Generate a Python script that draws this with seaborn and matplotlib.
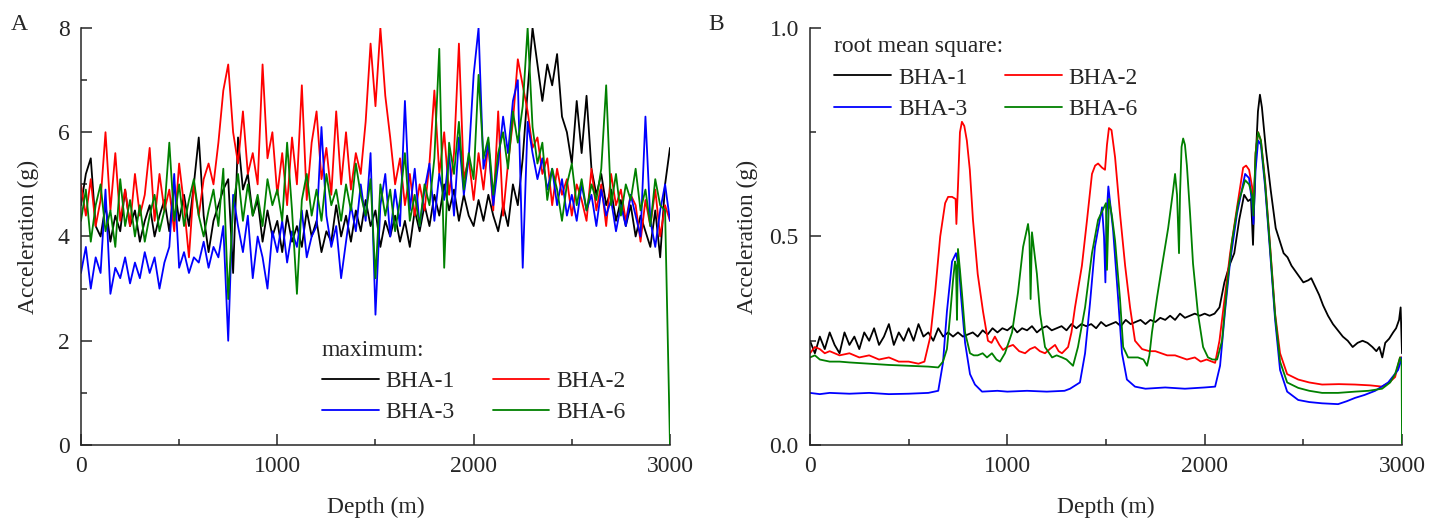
import numpy as np
import pandas as pd
import matplotlib as mpl
import matplotlib.pyplot as plt
import seaborn as sns

names = ["BHA-1", "BHA-2", "BHA-3", "BHA-6"]
colors = {"BHA-1": "#000000", "BHA-2": "#ff0000", "BHA-3": "#0000ff", "BHA-6": "#008000"}

# ---- panel A : maximum acceleration, one value every 25 m (0 .. 3000) ----
depth_a = list(range(0, 3001, 25))

max_bha1 = [4.6, 5.2, 5.5, 4.2, 4.0, 4.6, 3.9, 4.4, 4.1, 4.9,
            4.2, 4.5, 3.9, 4.3, 4.6, 4.0, 4.4, 4.7, 4.1, 5.0,
            4.3, 4.8, 4.2, 5.0, 5.9, 4.4, 3.7, 4.3, 4.6, 4.9,
            5.1, 3.3, 5.9, 4.9, 5.2, 4.4, 4.7, 3.9, 4.5, 4.0,
            4.3, 3.7, 4.4, 3.9, 4.2, 3.8, 4.5, 4.0, 4.3, 3.7,
            4.1, 3.9, 4.6, 4.0, 4.4, 3.9, 4.5, 4.1, 4.7, 4.2,
            4.5, 3.8, 4.3, 4.0, 4.4, 3.9, 4.3, 3.8, 4.5, 4.1,
            4.6, 4.2, 4.8, 4.4, 5.0, 4.5, 4.9, 4.3, 4.8, 4.4,
            4.2, 4.7, 4.3, 4.8, 4.4, 4.1, 4.6, 4.2, 5.0, 4.6,
            5.5, 6.8, 8.0, 7.3, 6.6, 7.3, 6.9, 7.5, 6.3, 6.0,
            5.4, 6.6, 5.6, 6.7, 5.3, 4.8, 5.2, 4.6, 4.9, 4.3,
            4.7, 4.2, 4.6, 4.0, 4.4, 4.1, 3.8, 4.5, 3.6, 5.0,
            5.7]
max_bha2 = [5.0, 4.4, 5.1, 4.2, 4.7, 6.0, 4.5, 5.6, 4.3, 4.9,
            4.2, 5.2, 4.4, 4.8, 5.7, 4.3, 5.2, 4.5, 4.9, 4.1,
            5.4, 4.6, 3.6, 5.0, 4.4, 5.1, 5.4, 5.0, 5.8, 6.8,
            7.3, 6.0, 5.4, 6.4, 5.2, 5.6, 5.0, 7.3, 5.5, 6.0,
            4.8, 5.6, 4.6, 5.9, 5.0, 6.9, 4.7, 5.8, 6.4, 5.1,
            5.7, 4.8, 6.4, 5.0, 6.0, 4.9, 5.6, 5.2, 6.2, 7.7,
            6.5, 8.0, 6.7, 5.9, 5.0, 5.5, 4.6, 5.2, 4.4, 5.0,
            4.5, 5.4, 6.8, 5.2, 6.0, 4.8, 5.6, 7.7, 5.1, 5.5,
            4.7, 5.6, 4.9, 5.8, 4.5, 6.4, 4.4, 5.4, 6.2, 7.4,
            6.9, 6.4, 5.7, 5.9, 5.2, 5.5, 4.6, 5.3, 4.8, 5.1,
            4.4, 5.0, 4.7, 4.3, 5.3, 4.5, 5.0, 4.2, 5.2, 4.6,
            4.9, 4.3, 4.8, 4.6, 3.9, 4.7, 4.2, 4.9, 4.0, 4.6,
            4.3]
max_bha3 = [3.3, 3.8, 3.0, 3.6, 3.3, 4.9, 2.9, 3.4, 3.2, 3.6,
            3.1, 3.5, 3.2, 3.7, 3.3, 3.6, 3.0, 3.5, 3.8, 5.2,
            3.4, 3.7, 3.3, 3.6, 3.5, 3.9, 3.4, 3.8, 3.6, 4.2,
            2.0, 4.8, 4.2, 3.7, 4.4, 3.2, 4.0, 3.6, 3.0, 4.1,
            3.7, 4.3, 3.5, 4.1, 3.8, 4.5, 3.6, 4.0, 4.2, 6.1,
            4.4, 3.8, 4.2, 3.2, 3.9, 4.6, 4.1, 5.0, 4.3, 5.6,
            2.5, 4.6, 5.2, 4.0, 4.9, 4.2, 6.6, 4.5, 5.3, 4.2,
            4.9, 5.4, 4.3, 5.2, 4.7, 5.6, 4.4, 5.9, 4.8, 5.5,
            7.1, 8.0, 5.3, 5.8, 4.6, 5.4, 6.3, 5.6, 6.6, 7.0,
            3.4, 6.2, 5.6, 5.1, 5.5, 4.9, 5.3, 4.6, 5.1, 4.4,
            4.8, 4.3, 5.0, 4.5, 4.8, 4.2, 4.9, 4.4, 4.7, 4.1,
            4.6, 4.2, 4.8, 4.4, 4.0, 6.3, 4.3, 3.8, 4.5, 5.0,
            4.3]
max_bha6 = [4.3, 4.9, 3.9, 4.6, 5.0, 4.1, 4.5, 3.8, 5.1, 4.2,
            4.7, 4.0, 4.6, 3.9, 4.4, 4.8, 4.1, 4.5, 5.8, 4.3,
            5.0, 4.2, 4.7, 5.1, 4.4, 4.0, 4.5, 4.9, 4.2, 5.3,
            2.8, 4.6, 5.2, 4.3, 5.0, 4.4, 4.8, 4.2, 5.1, 4.6,
            4.9, 4.3, 5.8, 4.5, 2.9, 4.7, 5.2, 4.4, 4.9, 4.3,
            5.2, 4.6, 4.9, 4.3, 5.0, 4.5, 5.4, 4.8, 4.4, 5.1,
            3.2, 5.0, 4.4, 4.9, 4.1, 4.7, 5.6, 4.3, 4.8, 4.2,
            5.0, 4.6, 5.5, 7.6, 3.4, 5.8, 5.2, 6.2, 4.9, 5.6,
            5.1, 7.1, 5.5, 5.9, 4.8, 5.6, 6.0, 5.3, 6.4, 5.8,
            6.5, 8.0, 6.1, 5.4, 5.8, 4.7, 5.3, 4.9, 4.3, 5.0,
            5.4, 4.6, 5.1, 4.5, 5.0, 4.7, 5.3, 6.9, 4.6, 5.2,
            4.4, 5.0, 4.7, 5.3, 4.5, 4.9, 4.2, 5.1, 4.6, 4.5,
            0.0]

# ---- panel B : root mean square ----
rms_bha1_depth = list(range(0, 2051, 25)) + [
    2075, 2100, 2125, 2150, 2175, 2200, 2220, 2235, 2245, 2255, 2270, 2280, 2290,
    2310, 2335, 2360, 2380, 2400, 2420, 2440, 2470, 2500, 2525, 2540, 2560, 2580,
    2600, 2625, 2650, 2675, 2700, 2725, 2750, 2775, 2800, 2825, 2850, 2870, 2885,
    2900, 2915, 2935, 2955, 2970, 2985, 2993, 3000]
rms_bha1 = [0.25, 0.22, 0.26, 0.23, 0.27, 0.24, 0.22, 0.27, 0.24, 0.26,
            0.23, 0.27, 0.25, 0.28, 0.24, 0.26, 0.29, 0.24, 0.27, 0.25,
            0.28, 0.25, 0.29, 0.26, 0.27, 0.25, 0.28, 0.26, 0.27, 0.26,
            0.27, 0.26, 0.265, 0.27, 0.26, 0.275, 0.265, 0.28, 0.27, 0.28,
            0.275, 0.285, 0.27, 0.28, 0.275, 0.285, 0.27, 0.28, 0.285, 0.275,
            0.28, 0.285, 0.275, 0.29, 0.28, 0.29, 0.285, 0.29, 0.28, 0.295,
            0.285, 0.29, 0.295, 0.285, 0.30, 0.29, 0.295, 0.30, 0.29, 0.30,
            0.295, 0.305, 0.30, 0.31, 0.30, 0.315, 0.305, 0.31, 0.315, 0.31,
            0.315, 0.31, 0.315,
            0.33, 0.39, 0.43, 0.46, 0.54, 0.60, 0.585, 0.59, 0.48, 0.65, 0.80, 0.84, 0.81,
            0.71, 0.61, 0.52, 0.49, 0.46, 0.45, 0.43, 0.41, 0.39, 0.395, 0.40, 0.38, 0.36,
            0.335, 0.31, 0.29, 0.275, 0.26, 0.25, 0.235, 0.245, 0.25, 0.245, 0.235, 0.225, 0.235,
            0.21, 0.245, 0.255, 0.27, 0.28, 0.30, 0.33, 0.22]

rms_bha2_depth = [0, 25, 50, 75, 100, 150, 200, 250, 300, 350, 400, 450, 500, 550, 580,
                  610, 635, 660, 685, 700, 720, 738, 742, 750, 760, 770, 782, 795, 810, 826,
                  850, 877, 902, 920, 937, 960, 978, 1000, 1029, 1060, 1090, 1115, 1140,
                  1165, 1191, 1215, 1242, 1260, 1277, 1308, 1325, 1343, 1378, 1404, 1429,
                  1445, 1460, 1480, 1495, 1505, 1515, 1528, 1546, 1571, 1597, 1622, 1647,
                  1683, 1720, 1750, 1780, 1810, 1850, 1880, 1910, 1950, 1980, 2010, 2053,
                  2075, 2093, 2129, 2164, 2195, 2210, 2225, 2240, 2248, 2258, 2271, 2285,
                  2306, 2332, 2357, 2382, 2418, 2474, 2530, 2595, 2680, 2762, 2840, 2899,
                  2935, 2965, 2990, 3000]
rms_bha2 = [0.22, 0.235, 0.23, 0.22, 0.225, 0.215, 0.22, 0.21, 0.215, 0.205, 0.21, 0.20, 0.20, 0.195, 0.20,
            0.26, 0.37, 0.50, 0.58, 0.595, 0.595, 0.59, 0.53, 0.62, 0.75, 0.775, 0.765, 0.73, 0.66, 0.54,
            0.41, 0.32, 0.25, 0.245, 0.26, 0.24, 0.228, 0.235, 0.24, 0.225, 0.22, 0.23, 0.235,
            0.225, 0.22, 0.23, 0.24, 0.225, 0.22, 0.235, 0.27, 0.33, 0.43, 0.54, 0.65,
            0.67, 0.675, 0.665, 0.66, 0.72, 0.76, 0.755, 0.69, 0.555, 0.43, 0.33, 0.25,
            0.23, 0.225, 0.225, 0.22, 0.215, 0.215, 0.21, 0.205, 0.21, 0.20, 0.205, 0.197,
            0.25, 0.32, 0.46, 0.57, 0.665, 0.67, 0.66, 0.62, 0.55, 0.70, 0.75, 0.73,
            0.635, 0.475, 0.315, 0.22, 0.17, 0.157, 0.15, 0.145, 0.146, 0.145, 0.143, 0.14,
            0.15, 0.163, 0.21, 0.21]

rms_bha3_depth = [0, 50, 100, 200, 300, 400, 500, 600, 650, 674, 694, 720, 740, 748, 755,
                  765, 786, 811, 836, 872, 950, 1000, 1100, 1200, 1290, 1318, 1368, 1394,
                  1419, 1444, 1480, 1490, 1497, 1503, 1512, 1536, 1561, 1581, 1606, 1647,
                  1700, 1800, 1900, 2000, 2053, 2078, 2103, 2129, 2164, 2205, 2225, 2240,
                  2247, 2258, 2271, 2285, 2306, 2332, 2357, 2382, 2418, 2474, 2530, 2595,
                  2676, 2720, 2762, 2810, 2864, 2930, 2980, 3000]
rms_bha3 = [0.125, 0.122, 0.125, 0.123, 0.125, 0.122, 0.123, 0.125, 0.13, 0.197, 0.32, 0.44, 0.46, 0.44, 0.43,
            0.36, 0.245, 0.17, 0.145, 0.128, 0.13, 0.128, 0.13, 0.128, 0.13, 0.135, 0.15, 0.22,
            0.34, 0.475, 0.57, 0.50, 0.39, 0.55, 0.62, 0.515, 0.355, 0.22, 0.157, 0.14,
            0.135, 0.138, 0.135, 0.138, 0.14, 0.19, 0.32, 0.44, 0.555, 0.65, 0.64, 0.58,
            0.53, 0.66, 0.73, 0.72, 0.62, 0.46, 0.30, 0.18, 0.128, 0.108, 0.103, 0.10,
            0.098, 0.105, 0.113, 0.12, 0.13, 0.15, 0.18, 0.21]

rms_bha6_depth = [0, 25, 50, 100, 150, 200, 300, 400, 500, 600, 650, 674, 694, 710, 725,
                  735, 740, 745, 750, 760, 770, 786, 811, 830, 850, 875, 897, 922, 945,
                  963, 988, 1024, 1054, 1080, 1105, 1112, 1118, 1125, 1150, 1166, 1191,
                  1227, 1250, 1277, 1300, 1333, 1358, 1394, 1429, 1460, 1485, 1500, 1505,
                  1515, 1530, 1546, 1571, 1587, 1612, 1640, 1662, 1690, 1708, 1720, 1733,
                  1759, 1784, 1815, 1840, 1850, 1860, 1870, 1875, 1883, 1891, 1900, 1910,
                  1926, 1941, 1966, 1992, 2017, 2040, 2063, 2088, 2113, 2139, 2170, 2205,
                  2225, 2240, 2247, 2258, 2271, 2285, 2306, 2332, 2357, 2382, 2418, 2474,
                  2530, 2595, 2676, 2762, 2830, 2899, 2940, 2965, 2990, 2998, 3000]
rms_bha6 = [0.21, 0.215, 0.205, 0.20, 0.20, 0.198, 0.195, 0.192, 0.19, 0.188, 0.186, 0.20, 0.23, 0.31, 0.395,
            0.44, 0.43, 0.30, 0.47, 0.42, 0.365, 0.27, 0.22, 0.215, 0.215, 0.22, 0.21, 0.22, 0.205,
            0.20, 0.22, 0.27, 0.365, 0.475, 0.53, 0.50, 0.35, 0.51, 0.41, 0.315, 0.235,
            0.21, 0.215, 0.21, 0.205, 0.19, 0.235, 0.33, 0.46, 0.54, 0.565, 0.58, 0.42,
            0.59, 0.55, 0.49, 0.35, 0.235, 0.21, 0.21, 0.21, 0.205, 0.19, 0.215, 0.27,
            0.355, 0.43, 0.52, 0.61, 0.65, 0.60, 0.46, 0.60, 0.715, 0.735, 0.72, 0.67,
            0.555, 0.435, 0.315, 0.235, 0.21, 0.205, 0.205, 0.25, 0.38, 0.49, 0.58, 0.635,
            0.625, 0.60, 0.55, 0.70, 0.75, 0.73, 0.63, 0.47, 0.31, 0.20, 0.15, 0.137,
            0.13, 0.125, 0.125, 0.128, 0.13, 0.135, 0.15, 0.17, 0.21, 0.20, 0.005]

df_a = pd.concat([pd.DataFrame({"depth": depth_a, "acc": v, "bha": n})
                  for n, v in zip(names, [max_bha1, max_bha2, max_bha3, max_bha6])])
df_b = pd.concat([pd.DataFrame({"depth": d, "acc": v, "bha": n})
                  for n, d, v in zip(names,
                                     [rms_bha1_depth, rms_bha2_depth, rms_bha3_depth, rms_bha6_depth],
                                     [rms_bha1, rms_bha2, rms_bha3, rms_bha6])])

sns.set_style("ticks")
plt.rcParams['font.family'] = ['Liberation Serif', 'DejaVu Serif']
plt.rcParams['font.size'] = 17
plt.rcParams['axes.linewidth'] = 1.1

fig = plt.figure(figsize=(14.43, 5.2), dpi=100)
ax1 = fig.add_axes([0.0561, 0.1442, 0.4082, 0.802])
ax2 = fig.add_axes([0.5613, 0.1442, 0.4103, 0.802])

for ax, df in [(ax1, df_a), (ax2, df_b)]:
    sns.lineplot(data=df, x="depth", y="acc", hue="bha", hue_order=names, palette=colors,
                 estimator=None, sort=False, lw=1.3, legend=False, ax=ax)
    ax.set_xlim(0, 3000)
    ax.set_xticks([0, 1000, 2000, 3000])
    ax.set_xticks([500, 1500, 2500], minor=True)
    ax.set_xlabel("Depth (m)", fontsize=17, labelpad=14)
    ax.tick_params(which="major", direction="in", length=8, width=1.1, labelsize=17, pad=8)
    ax.tick_params(which="minor", direction="in", length=4.5, width=1.1)
    sns.despine(ax=ax)

ax1.set_ylabel("Acceleration (g)", fontsize=17, labelpad=14)
ax2.set_ylabel("Acceleration (g)", fontsize=17, labelpad=8)
ax1.set_ylim(0, 8)
ax1.set_yticks([0, 2, 4, 6, 8])
ax1.set_yticks([1, 3, 5, 7], minor=True)
ax2.set_ylim(0, 1.0)
ax2.set_yticks([0.0, 0.5, 1.0])
ax2.set_yticklabels(["0.0", "0.5", "1.0"])
ax2.set_yticks([0.25, 0.75], minor=True)

# legend rows: BHA-1, BHA-2 / BHA-3, BHA-6 (matplotlib fills columns first)
leg_order = [0, 2, 1, 3]
leg_kw = dict(ncol=2, frameon=False, fontsize=17, title_fontsize=17, handlelength=2.4,
              handletextpad=0.3, columnspacing=1.6, labelspacing=0.42, alignment="left",
              borderpad=0.2)
for ax, title, loc, anchor in [(ax1, "maximum:", "lower left", (0.381, 0.012)),
                               (ax2, "root mean square:", "upper left", (0.013, 1.02))]:
    lines = ax.get_lines()[:4]
    ax.legend([lines[i] for i in leg_order], [names[i] for i in leg_order], title=title,
              loc=loc, bbox_to_anchor=anchor, **leg_kw)

fig.text(0.0075, 0.952, "A", fontsize=17, va="center")
fig.text(0.491, 0.952, "B", fontsize=17, va="center")

fig.savefig("out.png", dpi=100)
